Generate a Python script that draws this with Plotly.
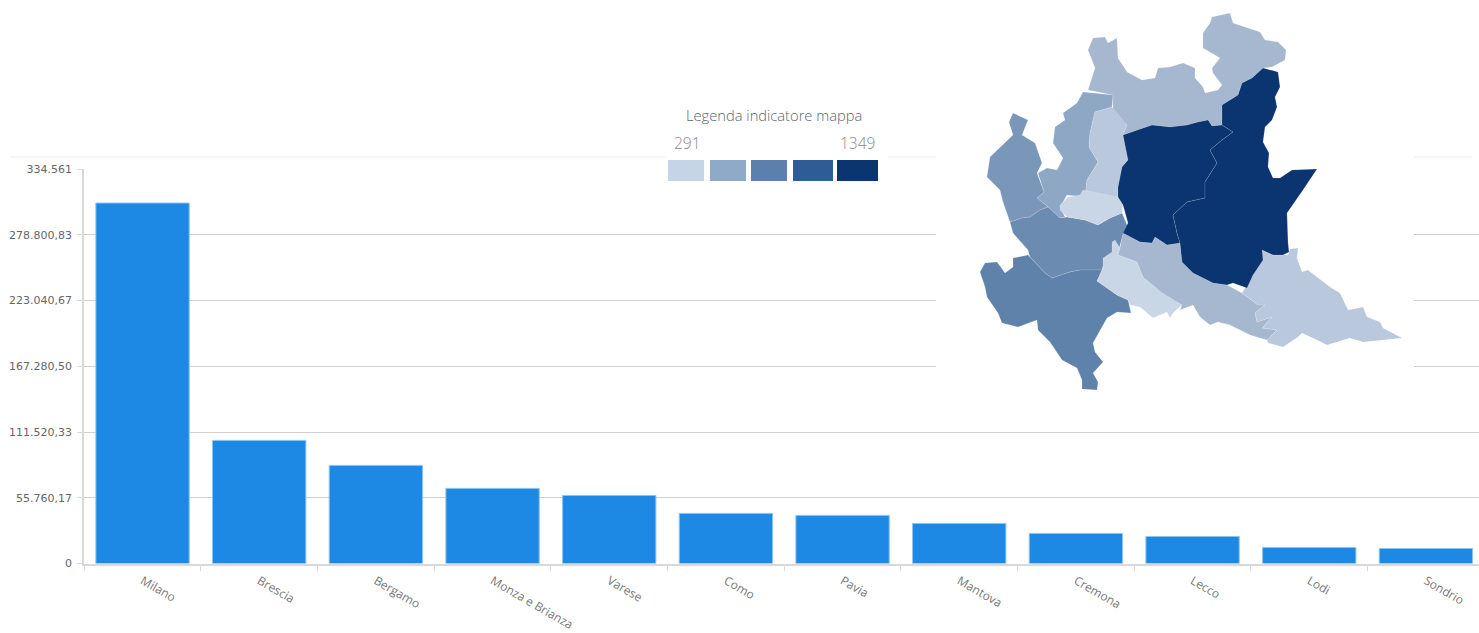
import plotly.graph_objects as go

provinces = ["Milano", "Brescia", "Bergamo", "Monza e Brianza", "Varese", "Como",
             "Pavia", "Mantova", "Cremona", "Lecco", "Lodi", "Sondrio"]
values = [305700, 104400, 83200, 63700, 57700, 42500, 40800, 34000, 25500, 22900, 13600, 12700]
y_tick_values = [0, 55760.17, 111520.33, 167280.5, 223040.67, 278800.83, 334561]
y_tick_labels = ["0", "55.760,17", "111.520,33", "167.280,50", "223.040,67", "278.800,83", "334.561"]

legend_title = "Legenda indicatore mappa"
legend_min = "291"
legend_max = "1349"
legend_colors = ["#c6d4e8", "#8fa9c9", "#5c80ad", "#2f5c94", "#0b3570"]
legend_spans = [(668, 704), (710, 746), (751, 787), (793, 833), (837, 878)]

# Map outlines, in the map's own drawing units
map_sondrio = [(1088,50),(1093,38),(1105,37),(1108,43),(1117,38),(1118,58),(1127,72),(1142,80),(1155,78),(1158,68),
    (1170,67),(1183,63),(1195,68),(1195,78),(1203,87),(1205,93),(1218,90),(1222,85),(1213,73),(1212,68),(1220,58),
    (1203,48),(1203,33),(1210,23),(1212,17),(1230,13),(1233,23),(1247,28),(1260,32),(1265,40),(1278,42),(1286,50),
    (1285,60),(1272,67),(1263,68),(1252,78),(1242,83),(1238,95),(1222,105),(1222,125),(1212,126),(1208,120),(1198,122),
    (1187,125),(1170,127),(1152,125),(1123,135),(1127,125),(1113,117),(1113,95),(1088,90),(1095,68),(1092,60)]
map_como = [(1083,92),(1113,95),(1112,107),(1095,112),(1090,133),(1089,147),(1098,162),(1087,180),(1085,197),(1067,195),
    (1060,207),(1065,217),(1060,218),(1048,207),(1037,198),(1044,192),(1038,173),(1047,168),(1057,170),(1063,158),
    (1053,143),(1055,127),(1065,120),(1063,113),(1077,103)]
map_varese = [(1013,113),(1028,120),(1022,135),(1035,143),(1042,163),(1037,173),(1044,192),(1037,198),(1048,207),
    (1040,210),(1030,217),(1022,218),(1010,222),(1003,202),(1000,190),(987,177),(990,157),(1013,135),(1009,122)]
map_lecco = [(1095,112),(1112,107),(1127,125),(1123,135),(1125,143),(1128,160),(1122,167),(1118,187),(1118,197),
    (1085,197),(1087,180),(1098,162),(1089,147),(1090,133)]
map_monza = [(1060,205),(1068,197),(1080,195),(1083,190),(1118,197),(1123,205),(1122,213),(1110,218),(1098,225),
    (1085,220),(1067,217),(1060,210)]
map_milano = [(1010,222),(1022,218),(1030,217),(1040,210),(1048,207),(1060,218),(1067,217),(1085,220),(1098,225),
    (1110,218),(1122,213),(1128,227),(1130,232),(1123,235),(1118,252),(1105,258),(1102,270),(1080,270),(1070,272),
    (1052,278),(1045,273),(1030,257),(1028,250),(1013,233)]
map_pavia = [(980,272),(985,263),(997,262),(1005,273),(1013,267),(1013,258),(1028,255),(1045,273),(1052,278),(1070,272),
    (1080,270),(1102,270),(1097,281),(1117,295),(1128,300),(1131,313),(1117,312),(1107,318),(1093,343),(1095,352),
    (1103,362),(1093,373),(1098,382),(1097,390),(1082,389),(1082,380),(1077,368),(1062,360),(1050,342),(1038,330),
    (1037,320),(1018,327),(1002,323),(998,313),(987,297),(985,287)]
map_lodi = [(1115,240),(1120,248),(1118,255),(1137,262),(1143,277),(1162,293),(1182,305),(1173,313),(1170,318),(1167,312),
    (1153,318),(1140,307),(1130,305),(1128,300),(1117,295),(1097,281),(1103,268),(1103,258),(1112,252),(1112,242)]
map_cremona = [(1123,233),(1140,242),(1152,243),(1155,237),(1167,245),(1180,243),(1182,262),(1193,273),(1213,283),(1227,285),
    (1242,293),(1258,305),(1265,305),(1255,313),(1257,322),(1272,317),(1262,328),(1277,330),(1267,340),(1250,335),
    (1230,325),(1218,322),(1210,325),(1200,317),(1193,305),(1185,308),(1180,310),(1182,305),(1162,293),(1143,277),
    (1137,262),(1118,255),(1120,248)]
map_mantova = [(1262,250),(1273,255),(1288,255),(1290,249),(1298,248),(1297,258),(1302,272),(1308,270),(1330,287),(1340,293),
    (1348,310),(1363,307),(1367,317),(1380,322),(1383,328),(1402,338),(1383,340),(1363,342),(1350,338),(1327,345),
    (1317,340),(1302,333),(1298,337),(1283,347),(1268,343),(1267,340),(1277,330),(1262,328),(1272,317),(1257,322),
    (1255,313),(1265,305),(1258,305),(1242,293),(1248,283),(1253,275)]
map_bergamo = [(1123,135),(1152,125),(1170,127),(1187,125),(1198,122),(1208,120),(1212,126),(1222,125),(1233,132),(1222,140),
    (1210,150),(1217,163),(1205,182),(1205,198),(1187,202),(1173,215),(1177,233),(1180,243),(1167,245),(1155,237),
    (1152,243),(1140,242),(1123,233),(1128,223),(1123,205),(1118,197),(1118,187),(1122,167),(1128,160),(1125,143)]
map_brescia = [(1222,105),(1238,95),(1242,83),(1252,78),(1263,68),(1278,72),(1280,87),(1275,97),(1277,107),(1272,120),
    (1265,127),(1263,142),(1269,153),(1268,167),(1273,178),(1280,178),(1292,170),(1317,169),(1303,190),(1287,213),
    (1288,242),(1289,252),(1283,255),(1273,255),(1262,250),(1263,260),(1253,275),(1247,288),(1233,283),(1227,285),
    (1213,283),(1193,273),(1182,262),(1180,243),(1177,233),(1173,215),(1187,202),(1205,198),(1205,182),(1217,163),
    (1210,150),(1222,140),(1233,132),(1222,125)]

map_regions = [
    (map_sondrio, "#a6b8d0"), (map_como, "#8ea7c5"), (map_lecco, "#b9c8dc"), (map_varese, "#7a96b8"),
    (map_milano, "#6c8bb0"), (map_pavia, "#5f82ab"), (map_monza, "#c9d6e6"), (map_lodi, "#c9d6e6"),
    (map_cremona, "#a6b8d0"), (map_mantova, "#b9c8dc"), (map_bergamo, "#0b3570"), (map_brescia, "#0b3570"),
]

W, H = 1479, 633
GRID = "#d0d0d0"
AXIS = "#d8d8d8"

fig = go.Figure()
fig.add_trace(go.Bar(x=provinces, y=values, marker=dict(color="#1e88e5", line=dict(color="#8cc4f2", width=1)),
                     showlegend=False, xaxis="x", yaxis="y"))

for outline, color in map_regions:
    xs = [p[0] for p in outline] + [outline[0][0]]
    ys = [p[1] for p in outline] + [outline[0][1]]
    fig.add_trace(go.Scatter(x=xs, y=ys, mode="lines", fill="toself", fillcolor=color,
                             line=dict(color="rgba(255,255,255,0.22)", width=0.6),
                             hoverinfo="skip", showlegend=False, xaxis="x2", yaxis="y2"))

shapes = [
    dict(type="line", xref="x2", yref="y2", x0=10, x1=1472, y0=157, y1=157, line=dict(color="#ececec", width=1), layer="below"),
    dict(type="rect", xref="x2", yref="y2", x0=665, x1=888, y0=100, y1=192, fillcolor="white", line=dict(width=0), layer="below"),
    dict(type="rect", xref="x2", yref="y2", x0=936, x1=1414, y0=0, y1=369, fillcolor="white", line=dict(width=0), layer="below"),
]
for (x0, x1), color in zip(legend_spans, legend_colors):
    shapes.append(dict(type="rect", xref="x2", yref="y2", x0=x0, x1=x1, y0=160, y1=181, fillcolor=color,
                       line=dict(width=0), layer="below"))

annotations = [
    dict(text=legend_title, xref="x2", yref="y2", x=774, y=115, showarrow=False,
         font=dict(family="Open Sans", size=14.7, color="#5c6670", weight=300)),
    dict(text=legend_min, xref="x2", yref="y2", x=687, y=143, showarrow=False,
         font=dict(family="Open Sans", size=15.5, color="#8a8a8a", weight=300)),
    dict(text=legend_max, xref="x2", yref="y2", x=857, y=143, showarrow=False,
         font=dict(family="Open Sans", size=15.5, color="#8a8a8a", weight=300)),
]

fig.update_layout(
    width=W, height=H, margin=dict(l=0, r=0, t=0, b=0, pad=0),
    paper_bgcolor="white", plot_bgcolor="rgba(0,0,0,0)", bargap=0.2, showlegend=False,
    shapes=shapes, annotations=annotations,
    xaxis=dict(domain=[84.2 / W, 1], type="category", categoryorder="array", categoryarray=provinces,
               range=[-0.5, 11.455], tickson="boundaries", ticks="outside", ticklen=5, tickcolor=AXIS,
               showline=True, linecolor=AXIS, linewidth=2, showgrid=False, tickangle=30, automargin=False,
               ticklabelstandoff=4,
               tickfont=dict(family="Open Sans", size=12, color="#777777"), anchor="y"),
    yaxis=dict(domain=[1 - 563.5 / H, 1 - 169 / H], range=[0, 334561], tickmode="array", automargin=False,
               tickvals=y_tick_values, ticktext=y_tick_labels, ticks="outside", ticklen=5, tickcolor=AXIS,
               showline=True, linecolor=AXIS, linewidth=2, showgrid=True, gridcolor=GRID, gridwidth=1,
               ticklabelstandoff=3,
               zeroline=False, tickfont=dict(family="DejaVu Sans", size=11, color="#666666"), anchor="x"),
    xaxis2=dict(domain=[0, 1], range=[0, W], visible=False, fixedrange=True, anchor="y2", automargin=False),
    yaxis2=dict(domain=[0, 1], range=[H, 0], visible=False, fixedrange=True, anchor="x2", automargin=False),
)

fig.write_html("out.html", config={"displayModeBar": False},
               post_script="document.body.style.margin='0';document.body.style.overflow='hidden';")
